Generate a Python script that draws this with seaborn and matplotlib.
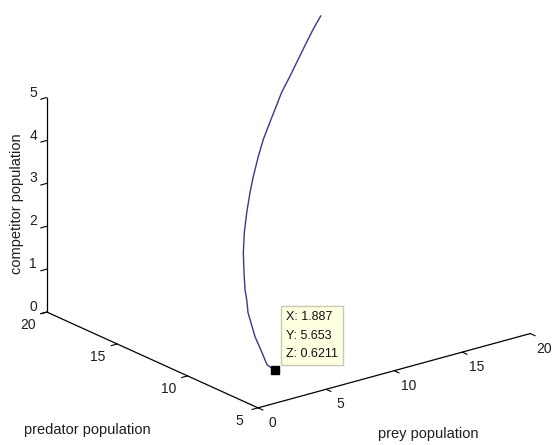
import numpy as np
import matplotlib
matplotlib.use("Agg")
import matplotlib.pyplot as plt
import seaborn as sns
from mpl_toolkits.mplot3d import proj3d

# Trajectory of the three-species model
prey = [1.887, 1.430, 1.156, 0.735, 0.313, 0.310, 0.279, 0.298, 0.340, 0.506,
        0.776, 1.112, 1.447, 1.908, 2.369, 2.829, 3.415, 4.001, 4.704, 5.408,
        6.118, 6.697, 7.335]
predator = [5.653, 5.743, 5.833, 5.923, 6.013, 6.103, 6.193, 6.283, 6.373, 6.463,
            6.553, 6.643, 6.733, 6.823, 6.913, 7.003, 7.093, 7.183, 7.273, 7.363,
            7.453, 7.543, 7.633]
competitor = [0.6211, 0.770, 1.061, 1.457, 2.040, 2.330, 2.553, 2.935, 3.385, 3.824,
              4.255, 4.680, 5.012, 5.426, 5.770, 6.021, 6.355, 6.689, 6.989, 7.312,
              7.636, 7.876, 8.112]

# Highlighted data point (data tip)
tip = (1.887, 5.653, 0.6211)

xticks = [0, 5, 10, 15, 20]
yticks = [5, 10, 15, 20]
zticks = [0, 1, 2, 3, 4, 5]
xlim, ylim, zlim = (0, 20), (5, 20), (0, 5)

sns.set_theme(style="white")
plt.rcParams["font.family"] = ["Liberation Sans", "DejaVu Sans"]

W, H = 554, 445
fig = plt.figure(figsize=(W / 100, H / 100), dpi=100)
side = 400
ax = fig.add_axes([(W - side) / 2 / W, (H - side) / 2 / H, side / W, side / H],
                  projection="3d", proj_type="ortho")
ax.computed_zorder = False
ax.view_init(elev=20.6, azim=-127.8)
ax.set_box_aspect((1, 1, 0.665))
ax.set_xlim(*xlim)
ax.set_ylim(*ylim)
ax.set_zlim(*zlim)
ax.set_xticks([])
ax.set_yticks([])
ax.set_zticks([])
ax.set_axis_off()

axis_kw = dict(color="black", lw=0.9, zorder=2, clip_on=False)
tick_kw = dict(color="black", lw=0.8, zorder=2, clip_on=False)

# axis lines
ax.plot(xlim, [ylim[0]] * 2, [zlim[0]] * 2, **axis_kw)
ax.plot([xlim[0]] * 2, ylim, [zlim[0]] * 2, **axis_kw)
ax.plot([xlim[0]] * 2, [ylim[1]] * 2, zlim, **axis_kw)

# tick marks
for t in xticks:
    ax.plot([t, t], [ylim[0], ylim[0] - 0.35], [0, 0], **tick_kw)
for t in yticks:
    ax.plot([0, -0.45], [t, t], [0, 0], **tick_kw)
for t in zticks:
    ax.plot([0, -0.45], [ylim[1]] * 2, [t, t], **tick_kw)

# trajectory
ax.plot(prey, predator, competitor, color="#38388f", lw=1.0, zorder=3, clip_on=False)

# data tip marker
ax.plot([tip[0]], [tip[1]], [tip[2]], "s", color="black", ms=6, zorder=4, clip_on=False)

# place the box so the corners sit where wanted
corners = [(0, 5, 0), (20, 5, 0), (0, 20, 0), (0, 20, 5)]
targets = np.array([(258, H - 408), (530, H - 335), (47, H - 311), (47, H - 97)], float)
for _ in range(3):
    fig.canvas.draw()
    M = ax.get_proj()
    pts = []
    for c in corners:
        xs, ys, _ = proj3d.proj_transform(*c, M)
        pts.append(ax.transData.transform((xs, ys)))
    pts = np.array(pts)
    pc, tc = pts.mean(0), targets.mean(0)
    k = np.sum((pts - pc) * (targets - tc)) / np.sum((pts - pc) ** 2)
    d = tc - k * pc
    bb = ax.get_position()
    l, b = bb.x0 * W, bb.y0 * H
    w, h = bb.width * W, bb.height * H
    ax.set_position([(k * l + d[0]) / W, (k * b + d[1]) / H, k * w / W, k * h / H])

fig.canvas.draw()
M = ax.get_proj()


def label3d(x, y, z, s, **kw):
    """Text anchored at a 3D data point, drawn as a flat annotation."""
    xs, ys, _ = proj3d.proj_transform(x, y, z, M)
    kw.setdefault("ha", "center")
    kw.setdefault("va", "center")
    kw.setdefault("fontsize", 10)
    kw.setdefault("color", "#1e1e1e")
    return ax.annotate(s, xy=(xs, ys), xycoords="data", annotation_clip=False, **kw)


# tick labels
for t in xticks:
    label3d(t, ylim[0] - 1.0, -0.2, str(t))
for t in yticks:
    label3d(-1.4, t, -0.185, str(t))
for t in zticks:
    label3d(-1.0, ylim[1], t + 0.2, str(t))

# axis titles
label3d(-2.2, ylim[1], 2.72, "competitor population", rotation=90, fontsize=10.5)
label3d(-4.8, 12.5, -1.215, "predator population", fontsize=10.5)
label3d(10, 2.58, -1.12, "prey population", fontsize=10.5)

# data tip box
label3d(*tip, f"X: {tip[0]:.4g}\nY: {tip[1]:.4g}\nZ: {tip[2]:.4g}",
        xytext=(7.9, 7.2), textcoords="offset points",
        ha="left", va="bottom", fontsize=9, linespacing=1.7, color="#111111",
        zorder=5,
        bbox=dict(boxstyle="square,pad=0.4", fc="#ffffe1", ec="#c8c8b0", lw=1))

fig.savefig("out.png", dpi=100, facecolor="white")
